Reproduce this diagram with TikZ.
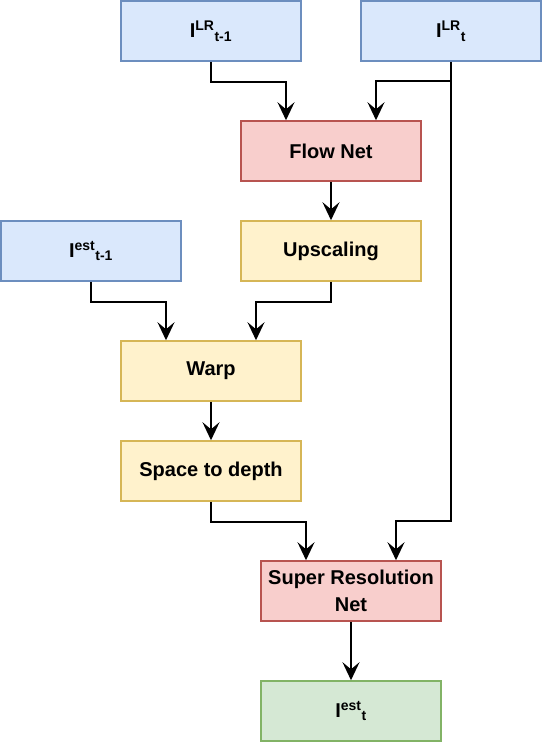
\documentclass[tikz,border=0pt]{standalone}
\usepackage{fontspec}
\setmainfont{Liberation Sans}
\usetikzlibrary{arrows.meta}

\definecolor{bluefill}{HTML}{DAE8FC}
\definecolor{blueline}{HTML}{6C8EBF}
\definecolor{redfill}{HTML}{F8CECC}
\definecolor{redline}{HTML}{B85450}
\definecolor{yellowfill}{HTML}{FFF2CC}
\definecolor{yellowline}{HTML}{D6B656}
\definecolor{greenfill}{HTML}{D5E8D4}
\definecolor{greenline}{HTML}{82B366}

\begin{document}
\begin{tikzpicture}[x=1pt,y=-1pt,
	box/.style={draw, line width=1.5pt, minimum width=180pt, minimum height=60pt, align=center,
		font=\fontsize{20}{27}\selectfont\bfseries, inner sep=2pt},
	inbox/.style={box, fill=bluefill, draw=blueline},
	netbox/.style={box, fill=redfill, draw=redline},
	opbox/.style={box, fill=yellowfill, draw=yellowline},
	outbox/.style={box, fill=greenfill, draw=greenline},
	flow/.style={-{Stealth[length=18pt,width=17pt,inset=7pt]}, line width=2pt}]
			\useasboundingbox (0,0) rectangle (542,742);
			\node[inbox] (lrprev) at (211,31) {I\textsuperscript{LR}\textsubscript{t-1}};
			\node[inbox] (lrcur) at (451,31) {I\textsuperscript{LR}\textsubscript{t}};
			\node[netbox] (flownet) at (331,151) {Flow Net};
			\node[opbox] (upscale) at (331,251) {Upscaling};
			\node[inbox] (estprev) at (91,251) {I\textsuperscript{est}\textsubscript{t-1}};
			\node[opbox] (warp) at (211,371) {Warp};
			\node[opbox] (s2d) at (211,471) {Space to depth};
			\node[netbox] (srnet) at (351,591) {Super Resolution\\Net};
			\node[outbox] (estcur) at (351,711) {I\textsuperscript{est}\textsubscript{t}};
			\coordinate (split) at (451,81);
			\draw[flow] (lrprev.south) -- ++(0,20) -| ([xshift=-45pt]flownet.north);
			\draw[flow] (split) -| ([xshift=45pt]flownet.north);
			\draw[flow] (lrcur.south) -- (451,521) -| ([xshift=45pt]srnet.north);
			\draw[flow] (flownet) -- (upscale);
			\draw[flow] (estprev.south) -- ++(0,20) -| ([xshift=-45pt]warp.north);
			\draw[flow] (upscale.south) -- ++(0,20) -| ([xshift=45pt]warp.north);
			\draw[flow] (warp) -- (s2d);
			\draw[flow] (s2d.south) -- ++(0,20) -| ([xshift=-45pt]srnet.north);
			\draw[flow] (srnet) -- (estcur);
		\end{tikzpicture}
\end{document}
